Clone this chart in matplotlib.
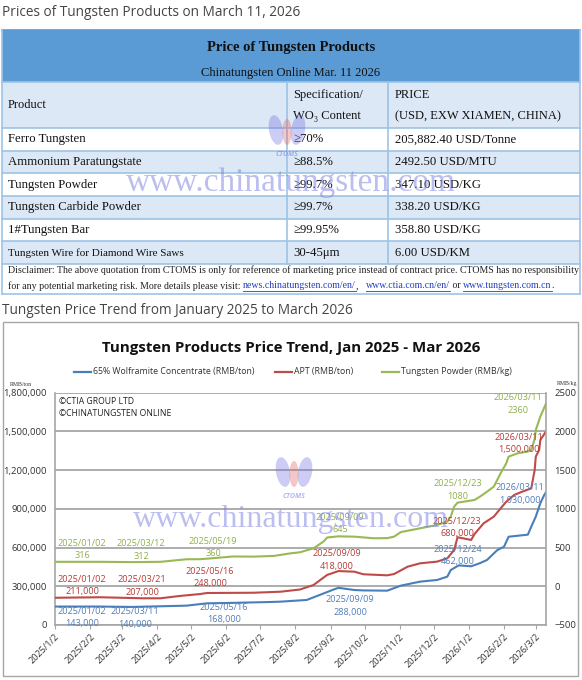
import numpy as np
import pandas as pd
import matplotlib.pyplot as plt
from matplotlib.ticker import FuncFormatter
from matplotlib.patches import Rectangle, Ellipse

# ---- table data ----
page_title = "Prices of Tungsten Products on March 11, 2026"
table_title = "Price of Tungsten Products"
table_sub = "Chinatungsten Online Mar. 11 2026"
head = ["Product", "Specification/\nWO\u2083 Content", "PRICE\n(USD, EXW XIAMEN, CHINA)"]
products = ["Ferro Tungsten", "Ammonium Paratungstate", "Tungsten Powder",
            "Tungsten Carbide Powder", "1#Tungsten Bar", "Tungsten Wire for Diamond Wire Saws"]
specs = ["\u226570%", "\u226588.5%", "\u226599.7%", "\u226599.7%", "\u226599.95%", "30-45\u03bcm"]
prices = ["205,882.40 USD/Tonne", "2492.50 USD/MTU", "347.10 USD/KG",
          "338.20 USD/KG", "358.80 USD/KG", "6.00 USD/KM"]
disc1 = ("Disclaimer: The above quotation from CTOMS is only for reference of marketing price "
         "instead of contract price. CTOMS has no responsibility")
disc2 = [("for any potential marketing risk. More details please visit: ", False),
         ("news.chinatungsten.com/en/", True), (",   ", False),
         ("www.ctia.com.cn/en/", True), (" or ", False),
         ("www.tungsten.com.cn", True), (".", False)]

# ---- chart data ----
chart_heading = "Tungsten Price Trend from January 2025 to March 2026"
chart_title = "Tungsten Products Price Trend, Jan 2025 - Mar 2026"

wolf_dates = ["2025-01-02", "2025-02-10", "2025-03-11", "2025-04-05", "2025-04-28", "2025-05-16",
              "2025-06-10", "2025-07-10", "2025-07-20", "2025-08-12", "2025-08-27", "2025-09-05",
              "2025-09-09", "2025-09-23", "2025-10-01", "2025-10-22", "2025-11-03", "2025-11-20",
              "2025-12-05", "2025-12-14", "2025-12-17", "2025-12-24", "2026-01-04", "2026-01-12",
              "2026-01-18", "2026-01-27", "2026-02-02", "2026-02-06", "2026-02-23", "2026-02-26",
              "2026-03-02", "2026-03-06", "2026-03-09", "2026-03-11"]
wolf_vals = [143000, 143000, 140000, 145000, 150000, 168000, 172000, 178000, 181000, 194000,
             245000, 276000, 288000, 271000, 268000, 266000, 305000, 336000, 349000, 375000,
             426000, 462000, 455000, 480000, 504000, 580000, 607000, 684000, 700000, 762000,
             840000, 943000, 1000000, 1030000]

apt_dates = ["2025-01-02", "2025-02-11", "2025-03-21", "2025-04-05", "2025-04-22", "2025-05-10",
             "2025-05-16", "2025-06-26", "2025-07-20", "2025-08-06", "2025-08-18", "2025-08-30",
             "2025-09-09", "2025-09-23", "2025-10-01", "2025-10-22", "2025-10-28", "2025-11-09",
             "2025-11-20", "2025-12-05", "2025-12-14", "2025-12-20", "2025-12-23", "2026-01-04",
             "2026-01-07", "2026-01-15", "2026-01-24", "2026-01-30", "2026-02-04", "2026-02-11",
             "2026-02-18", "2026-02-26", "2026-03-01", "2026-03-02", "2026-03-05", "2026-03-06",
             "2026-03-09", "2026-03-11"]
apt_vals = [211000, 215000, 207000, 207000, 225000, 240000, 248000, 250000, 258000, 275000,
            310000, 388000, 418000, 413000, 393000, 385000, 395000, 452000, 478000, 491000,
            517000, 581000, 680000, 659000, 705000, 788000, 840000, 904000, 956000, 1008000,
            1033000, 1059000, 1200000, 1305000, 1357000, 1434000, 1473000, 1500000]

powder_dates = ["2025-01-02", "2025-02-11", "2025-03-12", "2025-04-05", "2025-04-28", "2025-05-10",
                "2025-05-19", "2025-06-08", "2025-06-26", "2025-07-14", "2025-07-29", "2025-08-06",
                "2025-08-18", "2025-08-27", "2025-08-30", "2025-09-09", "2025-09-23", "2025-10-10",
                "2025-10-22", "2025-10-28", "2025-11-03", "2025-11-20", "2025-12-05", "2025-12-14",
                "2025-12-17", "2025-12-20", "2025-12-23", "2026-01-07", "2026-01-12", "2026-01-18",
                "2026-01-24", "2026-01-30", "2026-02-04", "2026-02-06", "2026-02-14", "2026-02-23",
                "2026-02-26", "2026-03-01", "2026-03-02", "2026-03-06", "2026-03-11"]
powder_vals = [316, 316, 312, 316, 349, 350, 360, 385, 383, 392, 426, 439, 490, 580, 630, 645,
               641, 620, 622, 641, 700, 749, 792, 835, 900, 1029, 1080, 1115, 1160, 1222, 1287,
               1460, 1589, 1674, 1718, 1740, 1761, 1900, 2019, 2191, 2360]

month_ticks = ["2025-01-02", "2025-02-02", "2025-03-02", "2025-04-02", "2025-05-02", "2025-06-02",
               "2025-07-02", "2025-08-02", "2025-09-02", "2025-10-02", "2025-11-02", "2025-12-02",
               "2026-01-02", "2026-02-02", "2026-03-02"]
month_labels = ["2025/1/2", "2025/2/2", "2025/3/2", "2025/4/2", "2025/5/2", "2025/6/2",
                "2025/7/2", "2025/8/2", "2025/9/2", "2025/10/2", "2025/11/2", "2025/12/2",
                "2026/1/2", "2026/2/2", "2026/3/2"]

# point labels: (date text, value)
powder_labels = [("2025/01/02", 316), ("2025/03/12", 312), ("2025/05/19", 360),
                 ("2025/09/09", 645), ("2025/12/23", 1080), ("2026/03/11", 2360)]
apt_labels = [("2025/01/02", 211000), ("2025/03/21", 207000), ("2025/05/16", 248000),
              ("2025/09/09", 418000), ("2025/12/23", 680000), ("2026/03/11", 1500000)]
wolf_labels = [("2025/01/02", 143000), ("2025/03/11", 140000), ("2025/05/16", 168000),
               ("2025/09/09", 288000), ("2025/12/24", 462000), ("2026/03/11", 1030000)]

BLUE, RED, GREEN = "#4a7ebb", "#be4b48", "#98b954"
serif = ["Liberation Serif", "DejaVu Serif"]
sans = ["Open Sans", "DejaVu Sans"]

W, H = 582, 680
fig = plt.figure(figsize=(W / 100, H / 100), dpi=100)
bg = fig.add_axes([0, 0, 1, 1], zorder=0)
bg.set_xlim(0, W)
bg.set_ylim(H, 0)
bg.axis("off")

bg.text(2, 12, page_title, fontsize=9.8, color="#444444", family=sans, va="center")

# ---- table ----
band_c, light_c, line_c = "#5b9bd5", "#dce8f5", "#9dc3e6"
tl, tr = 2, 580
bg.add_patch(Rectangle((tl, 30), tr - tl, 52, facecolor=band_c, edgecolor="none"))
bg.add_patch(Rectangle((tl, 82), tr - tl, 46, facecolor=light_c, edgecolor="none"))
row_top = [128 + i * 22.67 for i in range(len(products) + 1)]
for i in range(len(products)):
    fc = "white" if i % 2 == 0 else light_c
    bg.add_patch(Rectangle((tl, row_top[i]), tr - tl, 22.67, facecolor=fc, edgecolor="none"))
for y in [82, 128] + row_top[1:] + [294]:
    bg.plot([tl, tr], [y, y], color=line_c, lw=1.2)
bg.plot([tl, tr], [30, 30], color=band_c, lw=1.2)
bg.plot([tl, tl], [30, 294], color=line_c, lw=1.2)
bg.plot([tr, tr], [30, 294], color=line_c, lw=1.2)
for x in (287, 388):
    bg.plot([x, x], [82, row_top[-1]], color=line_c, lw=1.2)

bg.text(291, 48, table_title, fontsize=10.5, fontweight="bold", family=serif, ha="center",
        va="center", color="#111111")
bg.text(291, 73, table_sub, fontsize=9, family=serif, ha="center", va="center", color="#111111")
bg.text(8, 105, head[0], fontsize=9, family=serif, va="center", color="#111111")
for x, s in ((293, head[1]), (395, head[2])):
    a, b = s.split("\n")
    bg.text(x, 95, a, fontsize=9, family=serif, va="center", color="#111111")
    bg.text(x, 116, b, fontsize=9, family=serif, va="center", color="#111111")
for i in range(len(products)):
    yc = row_top[i] + 11.3
    fs = 8 if len(products[i]) > 30 else 9.2
    bg.text(8, yc, products[i], fontsize=fs, family=serif, va="center", color="#111111")
    bg.text(293, yc, specs[i], fontsize=9.2, family=serif, va="center", color="#111111")
    bg.text(395, yc, prices[i], fontsize=9.2, family=serif, va="center", color="#111111")

bg.text(8, 270, disc1, fontsize=7.15, family=serif, va="center", color="#222222")
renderer = fig.canvas.get_renderer()
x = 8
for s, link in disc2:
    t = bg.text(x, 286, s, fontsize=7.15, family=serif, va="center",
                color="#1f3fbf" if link else "#222222")
    w = t.get_window_extent(renderer=renderer).width
    if link:
        bg.plot([x, x + w], [290.5, 290.5], color="#1f3fbf", lw=0.6)
    x += w

bg.text(2, 311, chart_heading, fontsize=9.8, color="#444444", family=sans, va="center")

# ---- chart frame ----
bg.add_patch(Rectangle((3, 322), 575, 354, facecolor="white", edgecolor="#a6a6a6", lw=1.0))
bg.text(291, 348, chart_title, fontsize=10.8, fontweight="bold", family=sans, ha="center",
        va="center", color="#111111")
legend = [(74, BLUE, "65% Wolframite Concentrate (RMB/ton)"),
          (275, RED, "APT (RMB/ton)"), (382, GREEN, "Tungsten Powder (RMB/kg)")]
for lx, c, s in legend:
    bg.plot([lx, lx + 17], [371.5, 371.5], color=c, lw=1.6)
    bg.text(lx + 19, 371.5, s, fontsize=6.3, family=sans, va="center", color="#333333")
bg.text(10, 384, "RMB/ton", fontsize=4.2, family=serif, va="center", color="#333333")
bg.text(557, 384, "RMB/kg", fontsize=4.2, family=serif, va="center", color="#333333")

# ---- chart axes ----
x0, x1, y0, y1 = 55, 546, 392.7, 625
ax = fig.add_axes([x0 / W, (H - y1) / H, (x1 - x0) / W, (y1 - y0) / H], zorder=1)
ax.patch.set_alpha(0)
ax2 = ax.twinx()

ax.plot(pd.to_datetime(wolf_dates), wolf_vals, color=BLUE, lw=1.5, zorder=3)
ax.plot(pd.to_datetime(apt_dates), apt_vals, color=RED, lw=1.5, zorder=3)
ax2.plot(pd.to_datetime(powder_dates), powder_vals, color=GREEN, lw=1.5, zorder=3)

ax.set_xlim(pd.Timestamp("2025-01-02"), pd.Timestamp("2026-03-11"))
ax.set_ylim(0, 1800000)
ax2.set_ylim(-500, 2500)
ax.set_yticks(np.arange(0, 1800001, 300000))
ax2.set_yticks(np.arange(-500, 2501, 500))
ax.yaxis.set_major_formatter(FuncFormatter(lambda v, p: f"{int(v):,}"))
ax.grid(axis="y", color="#a6a6a6", lw=1.3)
ax.set_axisbelow(True)
ax.set_xticks(pd.to_datetime(month_ticks))
ax.set_xticklabels(month_labels, rotation=45, ha="right", rotation_mode="anchor")

for a in (ax, ax2):
    for sp in a.spines.values():
        sp.set_visible(False)
ax.spines["left"].set_visible(True)
ax.spines["bottom"].set_visible(True)
ax2.spines["right"].set_visible(True)
for sp in (ax.spines["left"], ax.spines["bottom"], ax2.spines["right"]):
    sp.set_color("#a6a6a6")
    sp.set_linewidth(1.2)
ax.tick_params(axis="y", length=0, labelsize=6.8, labelcolor="#333333", pad=6)
ax2.tick_params(axis="y", length=0, labelsize=6.8, labelcolor="#333333", pad=6)
ax.tick_params(axis="x", length=3, color="#a6a6a6", labelsize=6.6, labelcolor="#333333", pad=2)
for lab in ax.get_yticklabels() + ax2.get_yticklabels() + ax.get_xticklabels():
    lab.set_family(sans)

# ---- overlay: copyright, point labels, watermark ----
top = fig.add_axes([0, 0, 1, 1], zorder=5)
top.set_xlim(0, W)
top.set_ylim(H, 0)
top.axis("off")
top.patch.set_alpha(0)

top.text(59, 402, "\u00a9CTIA GROUP LTD", fontsize=6.2, family=sans, va="center", color="#222222")
top.text(59, 414, "\u00a9CHINATUNGSTEN ONLINE", fontsize=6.2, family=sans, va="center",
         color="#222222")

label_pos = {
    "powder": [(82, 543), (141, 544), (213, 541), (340, 517), (458, 484), (518, 398)],
    "apt": [(82, 579), (142, 580), (210, 571), (337, 554), (457, 521), (519, 437)],
    "wolf": [(82, 611), (135, 612), (224, 607), (350, 600), (458, 549), (520, 488)],
}
for key, labels, c, fmt in (("powder", powder_labels, "#8fb04a", "{}"),
                            ("apt", apt_labels, "#b83a36", "{:,}"),
                            ("wolf", wolf_labels, "#4f7fb8", "{:,}")):
    for (d, v), (px, py) in zip(labels, label_pos[key]):
        top.text(px, py, d, fontsize=6.6, family=sans, ha="center", va="center", color=c)
        top.text(px, py + 12.3, fmt.format(v), fontsize=6.6, family=sans, ha="center",
                 va="center", color=c)

wm_c = "#7b7fe0"
for (cx, cy, fs) in ((291, 183, 24), (291, 520, 23)):
    top.text(cx, cy, "www.chinatungsten.com", fontsize=fs, family=serif, ha="center",
             va="center", color=wm_c, alpha=0.5)
for (lx, ly) in ((287, 130), (294, 472)):
    top.add_patch(Ellipse((lx - 11, ly), 14, 30, angle=-10, color="#6f6fe0", alpha=0.35, lw=0))
    top.add_patch(Ellipse((lx, ly + 2), 9, 26, color="#e06060", alpha=0.35, lw=0))
    top.add_patch(Ellipse((lx + 11, ly), 14, 30, angle=10, color="#6f6fe0", alpha=0.35, lw=0))
    top.text(lx, ly + 24, "CTOMS", fontsize=5, family=sans, style="italic", fontweight="bold",
             ha="center", va="center", color="#6f6fe0", alpha=0.5)

fig.savefig("out.png", dpi=100)
